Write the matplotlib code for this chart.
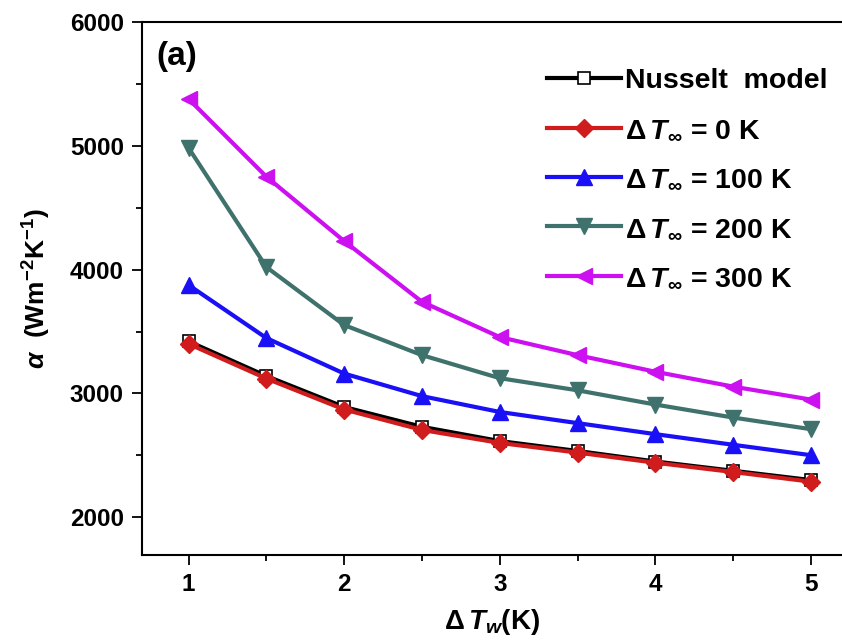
import numpy as np
import matplotlib
matplotlib.use("Agg")
import matplotlib.pyplot as plt
from matplotlib.ticker import MultipleLocator

plt.rcParams['font.family'] = ['Liberation Sans', 'DejaVu Sans']
plt.rcParams['font.weight'] = 'bold'
plt.rcParams['axes.labelweight'] = 'bold'
plt.rcParams['mathtext.fontset'] = 'custom'
plt.rcParams['mathtext.rm'] = 'Liberation Sans:bold'
plt.rcParams['mathtext.bf'] = 'Liberation Sans:bold'
plt.rcParams['mathtext.it'] = 'Liberation Sans:bold:italic'
plt.rcParams['mathtext.sf'] = 'Liberation Sans:italic'

### Data ###
dTw = [1, 1.5, 2, 2.5, 3, 3.5, 4, 4.5, 5]
nusselt = [3420, 3140, 2890, 2730, 2615, 2535, 2450, 2375, 2300]
dT0 = [3400, 3120, 2870, 2705, 2600, 2522, 2440, 2365, 2287]
dT100 = [3875, 3447, 3160, 2978, 2850, 2760, 2671, 2585, 2501]
dT200 = [4982, 4020, 3552, 3309, 3123, 3025, 2910, 2805, 2711]
dT300 = [5378, 4750, 4230, 3740, 3455, 3309, 3175, 3055, 2950]

labels = ["Nusselt  model",
          r"$\Delta\,T_{\infty}$ = 0 K",
          r"$\Delta\,T_{\infty}$ = 100 K",
          r"$\Delta\,T_{\infty}$ = 200 K",
          r"$\Delta\,T_{\infty}$ = 300 K"]

fig = plt.figure(figsize=(8.42, 6.43), dpi=100)
ax = fig.add_axes([0.1686, 0.1369, 0.8314, 0.8289])

lw = 3.0
ax.plot(dTw, nusselt, color='black', lw=lw, marker='s', ms=9, mfc='white', mec='black', mew=1.2, label=labels[0], zorder=3)
ax.plot(dTw, dT0, color='#d01c1c', lw=lw, marker='D', ms=9, label=labels[1], zorder=4)
ax.plot(dTw, dT100, color='#1a10f5', lw=lw, marker='^', ms=12, label=labels[2])
ax.plot(dTw, dT200, color='#3f716d', lw=lw, marker='v', ms=12, label=labels[3])
ax.plot(dTw, dT300, color='#cc10f0', lw=lw, marker='<', ms=12, label=labels[4])

ax.set_xlim(0.7, 5.2)
ax.set_ylim(1695, 6000)
ax.xaxis.set_major_locator(MultipleLocator(1))
ax.xaxis.set_minor_locator(MultipleLocator(0.5))
ax.yaxis.set_major_locator(MultipleLocator(1000))
ax.yaxis.set_minor_locator(MultipleLocator(500))
ax.tick_params(which='both', direction='out', width=1.3, labelsize=17.5, pad=6)
ax.tick_params(which='major', length=7)
ax.tick_params(which='minor', length=4)
ax.spines['right'].set_visible(False)
for s in ['left', 'bottom', 'top']:
    ax.spines[s].set_linewidth(1.5)

ax.set_xlabel(r"$\Delta\,T_{w}$(K)", fontsize=20, labelpad=8)
ax.set_ylabel(r"$\mathsf{\alpha}$  (Wm$^{\mathbf{-2}}$K$^{\mathbf{-1}}$)", fontsize=19, labelpad=12)

ax.text(0.02, 0.965, "(a)", transform=ax.transAxes, fontsize=24, fontweight='bold', va='top', ha='left')

leg = ax.legend(loc='upper right', bbox_to_anchor=(1.0, 0.94), frameon=False, fontsize=20.5,
                handlelength=2.6, handletextpad=0.15, labelspacing=0.82, borderaxespad=0.1)

fig.savefig("out.png", dpi=100)
